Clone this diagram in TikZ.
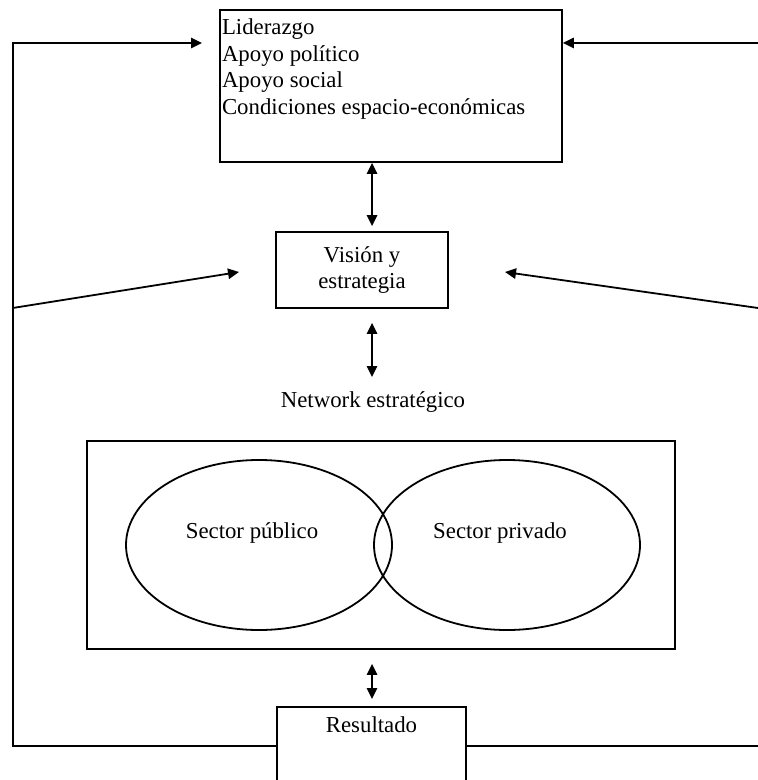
\documentclass[tikz,border=0pt]{standalone}
\usepackage{fontspec}
\setmainfont{Liberation Serif}
\usetikzlibrary{arrows.meta, shapes.geometric}

\begin{document}
\begin{tikzpicture}[x=0.5pt, y=-0.5pt, line width=0.9pt,
      every node/.style={font=\fontsize{11.4}{13.2}\selectfont},
      box/.style={draw, rectangle, inner sep=0pt},
      oval/.style={draw, ellipse, inner sep=0pt, minimum width=133pt,
                   minimum height=85pt},
      tip/.style={-{Triangle[length=5.5pt, width=5.2pt]}},
      dbl/.style={{Triangle[length=5.5pt, width=5.2pt]}-{Triangle[length=5.5pt, width=5.2pt]}}]
    \useasboundingbox (0,0) rectangle (758,780);
    \coordinate (axis) at (372,0);
    % factors at the top
    \node[box, minimum width=171pt, minimum height=76pt] (factors) at (391,86) {};
    \node[anchor=north west, align=left, inner xsep=1pt, inner ysep=4.5pt]
          (factortext) at (factors.north west)
          {Liderazgo\\Apoyo político\\Apoyo social\\Condiciones espacio-económicas};
    \node[box, minimum width=86pt, minimum height=38pt, align=center]
          (vision) at (362,270) {Visión y\\estrategia};
    \node (network) at (373,402) {Network estratégico};
    % network of both sectors
    \node[box, minimum width=294pt, minimum height=104pt] (sectors) at (381,545) {};
    \node[oval] (public) at (259,545) {};
    \node[oval] (private) at (507,545) {};
    \node (publictext) at (252,533) {Sector público};
    \node (privatetext) at (500,533) {Sector privado};
    \node[box, anchor=north, minimum width=94.5pt, minimum height=39pt]
          (result) at (371.5,706) {};
    \node[anchor=north, inner sep=5pt] (resulttext) at (result.north) {Resultado};
    % feedback lines
    \coordinate (ltop) at (12.7,43);
    \coordinate (ltip) at (202,43);
    \coordinate (rtop) at (758,43);
    \coordinate (redge) at (758,745);
    \coordinate (lmid) at (12.7,308);
    \coordinate (lin) at (239,272);
    \coordinate (rmid) at (758,308);
    \coordinate (rin) at (505,272);
    \draw[tip] (result.west) -| (ltop) -- (ltip);
    \draw (result.east) -- (result.east -| redge);
    \draw[tip] (rtop) -- (rtop -| factors.east);
    \draw[tip] (lmid) -- (lin);
    \draw[tip] (rmid) -- (rin);
    \draw[dbl] (factors.south -| axis) -- ([yshift=2.5pt]vision.north -| axis);
    \draw[dbl] ([yshift=-7pt]vision.south -| axis) -- ([yshift=12.5pt]network.center -| axis);
    \draw[dbl] ([yshift=-7pt]sectors.south -| axis) -- ([yshift=3.5pt]result.north -| axis);
\end{tikzpicture}
\end{document}
